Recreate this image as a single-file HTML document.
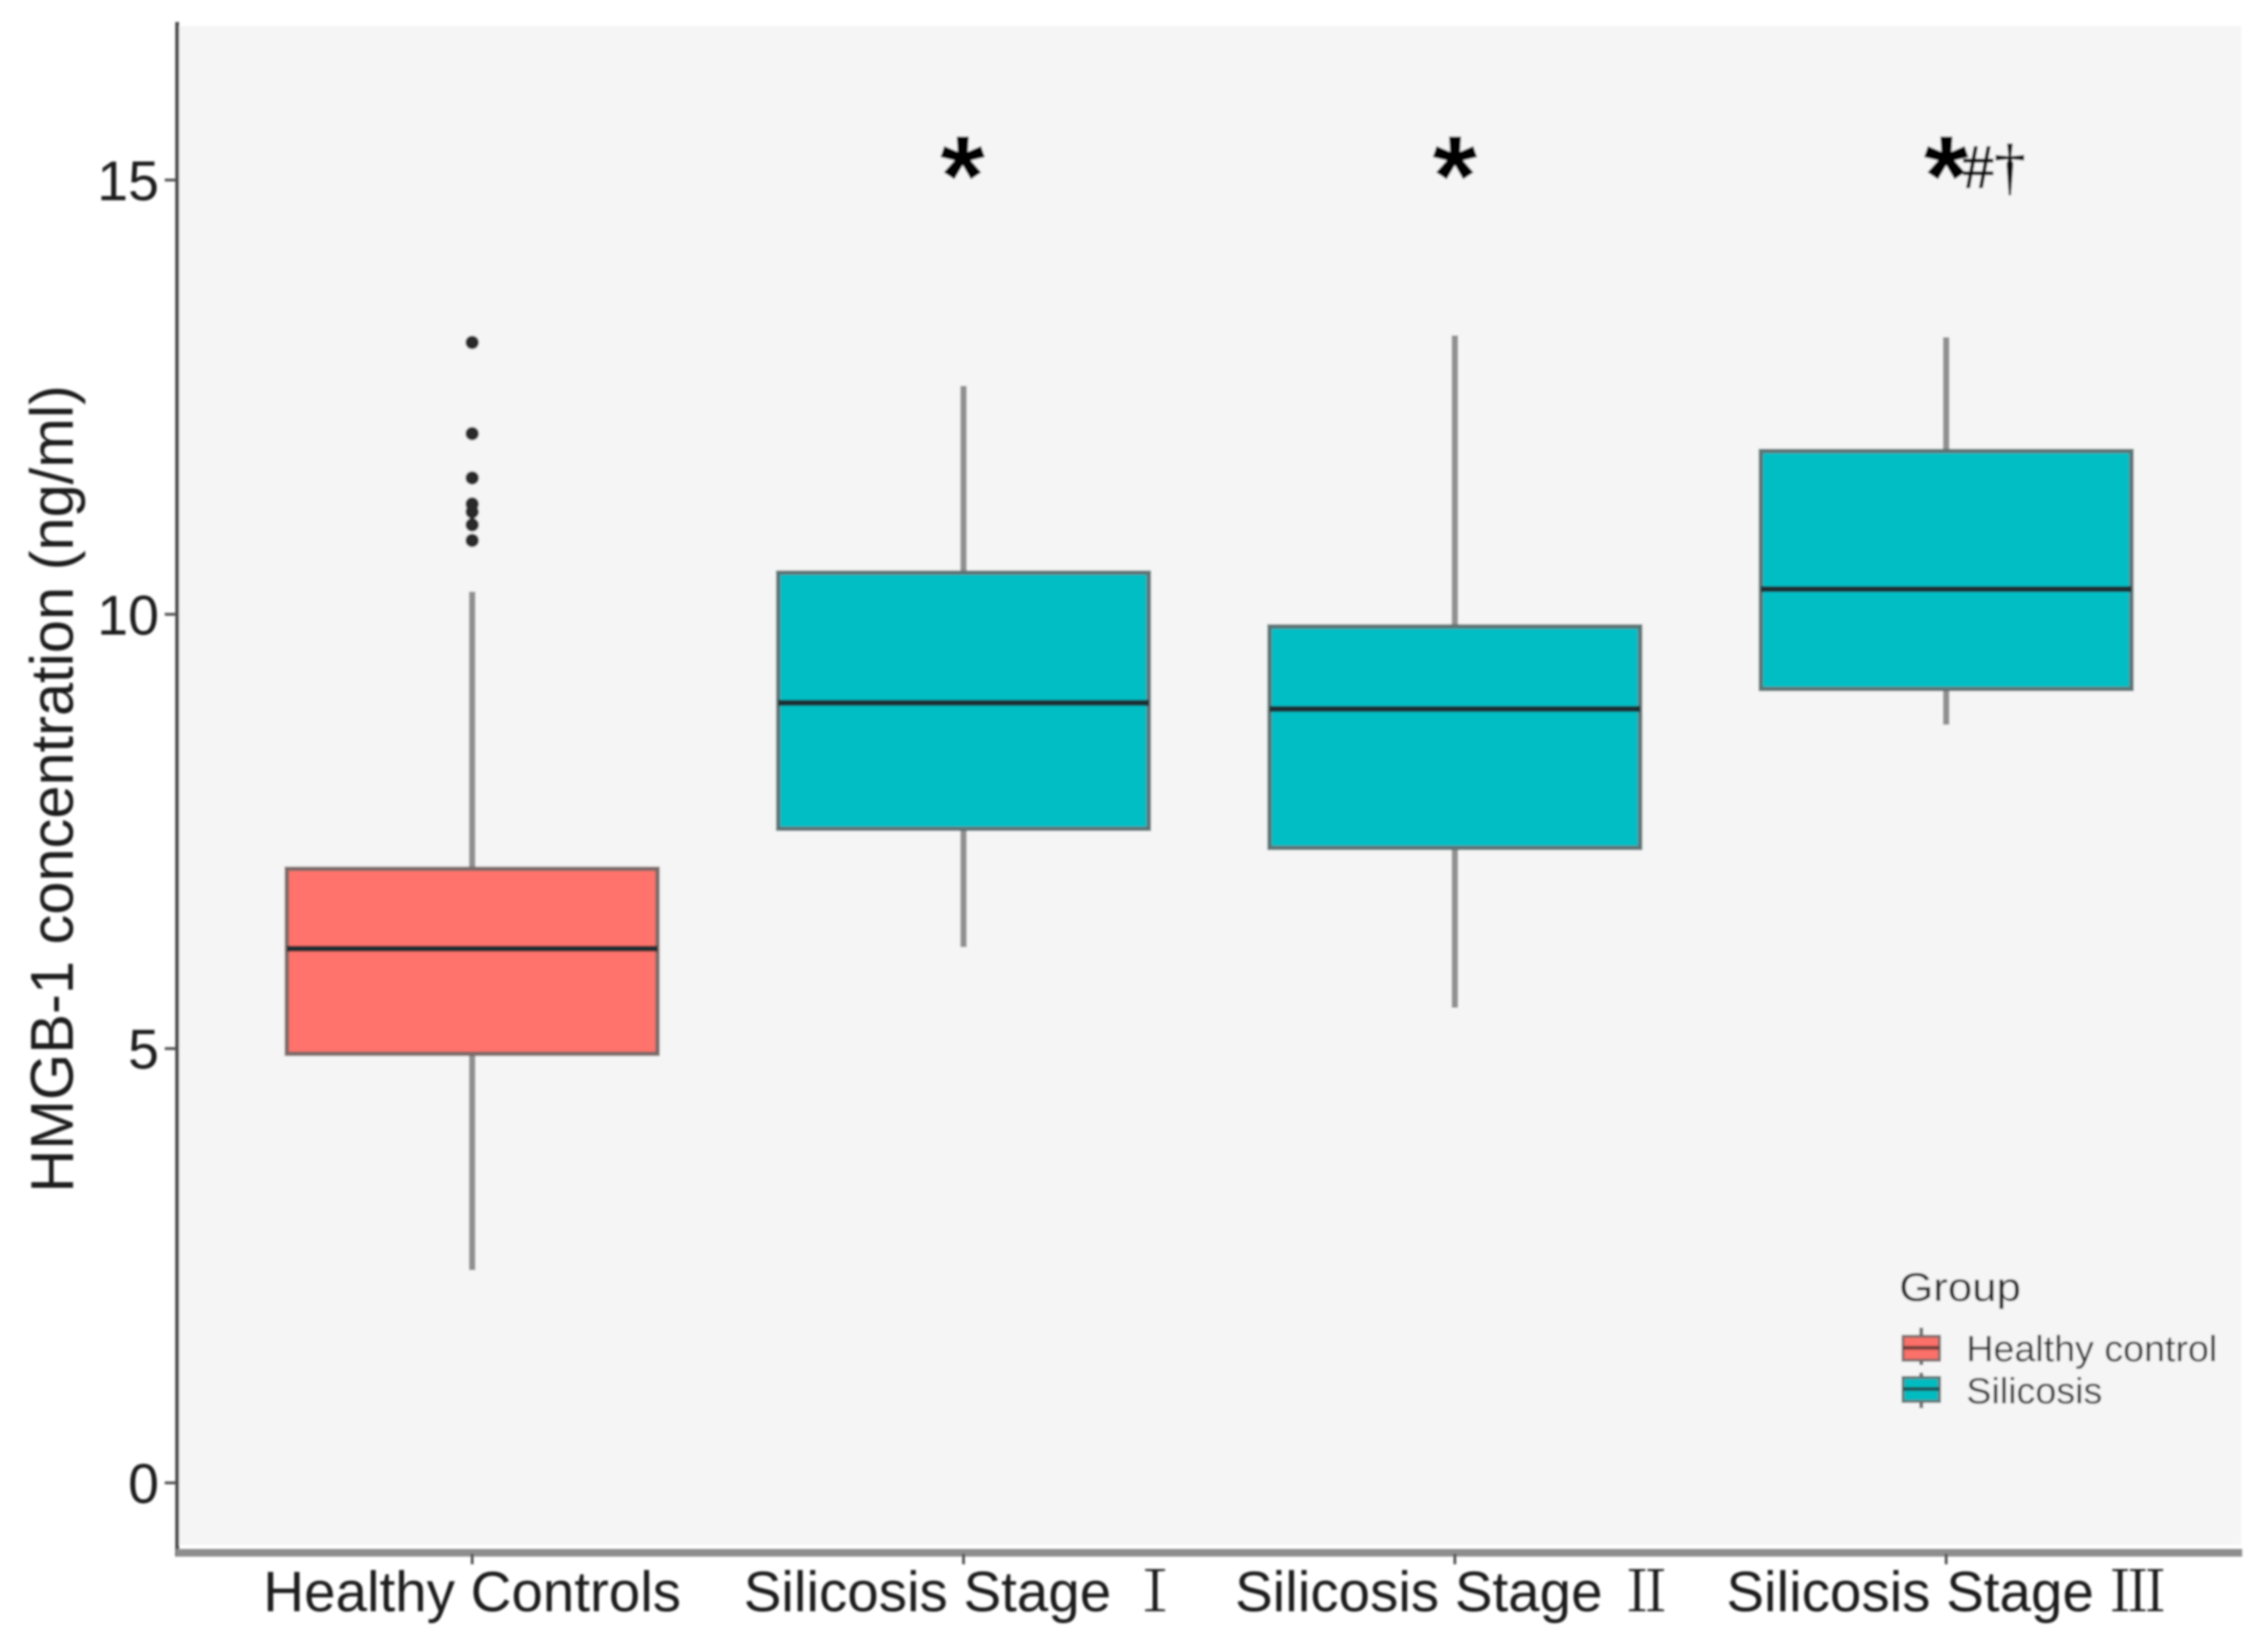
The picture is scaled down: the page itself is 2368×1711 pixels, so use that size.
<!DOCTYPE html>
<html lang="en">
<head>
<meta charset="utf-8">
<title>HMGB-1 concentration boxplot</title>
<style>
  html, body { margin: 0; padding: 0; background: #ffffff; }
  svg { display: block; }
  text { font-family: "Liberation Sans", "Noto Sans CJK SC", sans-serif; }
</style>
</head>
<body>
<svg id="chart" xmlns="http://www.w3.org/2000/svg" width="2368" height="1711" viewBox="0 0 2368 1711">
  <defs>
    <filter id="soft" filterUnits="userSpaceOnUse" x="0" y="0" width="2368" height="1711">
      <feGaussianBlur stdDeviation="1.1"></feGaussianBlur>
    </filter>
  </defs>
  <rect x="0" y="0" width="2368" height="1711" fill="#ffffff"></rect>
  <g id="root" filter="url(#soft)">
    <rect x="186" y="27" width="2154" height="1586" fill="#f5f5f5"></rect>
    <g id="boxes"></g>
    <g id="axes">
      <rect x="183" y="23" width="4" height="1602" fill="#4a4a4a"></rect>
      <rect x="184" y="1617" width="2157" height="8" fill="#8e8e8e"></rect>
    </g>
    <text transform="translate(76,1245) rotate(-90)" font-size="63" fill="#1a1a1a" textLength="843" lengthAdjust="spacingAndGlyphs">HMGB-1 concentration (ng/ml)</text>
    <g id="annotations">
      <text x="1005" y="225" font-size="120" font-weight="700" text-anchor="middle" fill="#000000">*</text>
      <text x="1519" y="225" font-size="120" font-weight="700" text-anchor="middle" fill="#000000">*</text>
      <text x="2032" y="225" font-size="120" font-weight="700" text-anchor="middle" fill="#000000">*</text>
      <text x="2049" y="196" font-size="66" fill="#111111" stroke="#111111" stroke-width="0.8" style="font-family:'Liberation Serif',serif">#†</text>
    </g>
    <g id="legend">
      <text x="1983" y="1358" font-size="42" fill="#222222" textLength="127" lengthAdjust="spacingAndGlyphs">Group</text>
      <g>
        <line x1="2006" x2="2006" y1="1386" y2="1425" stroke="#6f6f6f" stroke-width="4"></line>
        <rect x="1987" y="1395" width="38" height="25" fill="#fb6f68" stroke="#7d6d6a" stroke-width="3"></rect>
        <line x1="1987" x2="2025" y1="1407" y2="1407" stroke="#70403c" stroke-width="4"></line>
        <text x="2053" y="1421" font-size="38" fill="#333333" textLength="262" lengthAdjust="spacingAndGlyphs">Healthy control</text>
      </g>
      <g>
        <line x1="2006" x2="2006" y1="1433" y2="1470" stroke="#6f6f6f" stroke-width="4"></line>
        <rect x="1987" y="1438" width="38" height="25" fill="#00bcc0" stroke="#5f7476" stroke-width="3"></rect>
        <line x1="1987" x2="2025" y1="1450" y2="1450" stroke="#1d5557" stroke-width="4"></line>
        <text x="2053" y="1465" font-size="38" fill="#333333" textLength="142" lengthAdjust="spacingAndGlyphs">Silicosis</text>
      </g>
    </g>
  </g>
</svg>
<script>
const categories = ["Healthy Controls", "Silicosis Stage", "Silicosis Stage", "Silicosis Stage"];
const stageNumerals = ["", "Ⅰ", "Ⅱ", "Ⅲ"];
const q1Values = [4.94, 7.53, 7.31, 9.14];
const medianValues = [6.15, 8.98, 8.91, 10.29];
const q3Values = [7.07, 10.48, 9.86, 11.88];
const whiskerLowValues = [2.45, 6.17, 5.47, 8.73];
const whiskerHighValues = [10.26, 12.63, 13.21, 13.19];
const outlierValues = [13.13, 12.08, 11.57, 11.27, 11.18, 11.03, 10.85];
const yTickValues = [0, 5, 10, 15];

const NS = "http://www.w3.org/2000/svg";
const boxColors = ["#ff736c", "#00bec4"];

function yScale(v) {
  return 1548 - v * 90.67;
}
function xScale(i) {
  return 493 + i * 513;
}
const boxHalfWidth = 193.5;

function make(tag, parent) {
  const el = document.createElementNS(NS, tag);
  parent.appendChild(el);
  return el;
}

const boxLayer = document.getElementById("boxes");
const axesLayer = document.getElementById("axes");

categories.forEach(function (name, i) {
  const cx = xScale(i);
  const group = make("g", boxLayer);
  
  

  const whisker = make("line", group);
  
  
  whisker.setAttribute("x1", cx);
  whisker.setAttribute("x2", cx);
  whisker.setAttribute("y1", yScale(whiskerLowValues[i]));
  whisker.setAttribute("y2", yScale(whiskerHighValues[i]));
  whisker.setAttribute("stroke", "#8f8f8f");
  whisker.setAttribute("stroke-width", "6.5");

  const box = make("rect", group);
  
  
  box.setAttribute("x", cx - boxHalfWidth);
  box.setAttribute("width", boxHalfWidth * 2);
  box.setAttribute("y", yScale(q3Values[i]));
  box.setAttribute("height", yScale(q1Values[i]) - yScale(q3Values[i]));
  box.setAttribute("fill", boxColors[i === 0 ? 0 : 1]);
  box.setAttribute("stroke", i === 0 ? "#7d6a68" : "#5d7476");
  box.setAttribute("stroke-width", "4.5");

  const median = make("line", group);
  
  
  median.setAttribute("x1", cx - boxHalfWidth);
  median.setAttribute("x2", cx + boxHalfWidth);
  median.setAttribute("y1", yScale(medianValues[i]));
  median.setAttribute("y2", yScale(medianValues[i]));
  median.setAttribute("stroke", "#1f2f30");
  median.setAttribute("stroke-width", "6");

  const tick = make("line", axesLayer);
  
  
  tick.setAttribute("x1", cx);
  tick.setAttribute("x2", cx);
  tick.setAttribute("y1", 1622);
  tick.setAttribute("y2", 1633);
  tick.setAttribute("stroke", "#555555");
  tick.setAttribute("stroke-width", "3");

  const label = make("text", axesLayer);
  
  
  label.setAttribute("x", cx);
  label.setAttribute("y", 1682);
  label.setAttribute("font-size", "59");
  label.setAttribute("fill", "#1a1a1a");
  label.setAttribute("text-anchor", "middle");
  label.setAttribute("xml:space", "preserve");
  label.textContent = stageNumerals[i] ? name + " " : name;
  if (stageNumerals[i]) {
    const numeral = make("tspan", label);
    
    
    numeral.setAttribute("style", "font-family:'Noto Serif CJK SC','DejaVu Serif',serif");
    numeral.textContent = stageNumerals[i];
  }
});

outlierValues.forEach(function (v) {
  const dot = make("circle", boxLayer);
  
  
  dot.setAttribute("cx", xScale(0));
  dot.setAttribute("cy", yScale(v));
  dot.setAttribute("r", "7");
  dot.setAttribute("fill", "#2a2a2a");
});

yTickValues.forEach(function (v) {
  const y = yScale(v);
  const tick = make("line", axesLayer);
  
  
  tick.setAttribute("x1", 172);
  tick.setAttribute("x2", 184);
  tick.setAttribute("y1", y);
  tick.setAttribute("y2", y);
  tick.setAttribute("stroke", "#555555");
  tick.setAttribute("stroke-width", "3");

  const label = make("text", axesLayer);
  
  
  label.setAttribute("x", 166);
  label.setAttribute("y", y + 21);
  label.setAttribute("font-size", "58");
  label.setAttribute("fill", "#1a1a1a");
  label.setAttribute("text-anchor", "end");
  label.textContent = String(v);
});
</script>
</body>
</html>
